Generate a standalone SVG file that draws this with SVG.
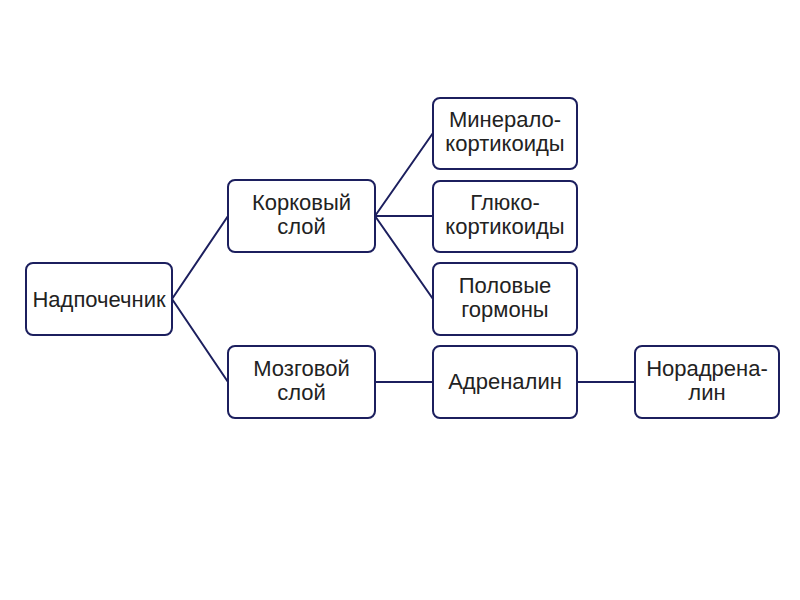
<svg xmlns="http://www.w3.org/2000/svg" width="800" height="600" viewBox="0 0 800 600">
<style>
.box{fill:#fff;stroke:#1c1f5e;stroke-width:2}
.t{font-family:"Liberation Sans",Arial,sans-serif;font-size:22px;fill:#222;text-anchor:middle}
.c{stroke:#1c1f5e;stroke-width:2;fill:none}
</style>
<rect width="800" height="600" fill="#fff"/>
<g id="connectors">
<path class="c" d="M172,299 L228,216 M172,299 L228,382"/>
<path class="c" d="M375,216 L433,133 M375,216 L433,216 M375,216 L433,299"/>
<path class="c" d="M375,382 L433,382 M577,382 L635,382"/>
</g>
<g id="n1"><rect class="box" x="26" y="263" width="146" height="72" rx="7"/><text class="t" x="99" y="307">Надпочечник</text></g>
<g id="n2"><rect class="box" x="228" y="180" width="147" height="72" rx="7"/><text class="t" x="301.5" y="210">Корковый</text><text class="t" x="301.5" y="234">слой</text></g>
<g id="n3"><rect class="box" x="228" y="346" width="147" height="72" rx="7"/><text class="t" x="301.5" y="376">Мозговой</text><text class="t" x="301.5" y="400">слой</text></g>
<g id="n4"><rect class="box" x="433" y="98" width="144" height="71" rx="7"/><text class="t" x="505" y="127">Минерало-</text><text class="t" x="505" y="151">кортикоиды</text></g>
<g id="n5"><rect class="box" x="433" y="181" width="144" height="71" rx="7"/><text class="t" x="505" y="210">Глюко-</text><text class="t" x="505" y="234">кортикоиды</text></g>
<g id="n6"><rect class="box" x="433" y="263" width="144" height="72" rx="7"/><text class="t" x="505" y="293">Половые</text><text class="t" x="505" y="317">гормоны</text></g>
<g id="n7"><rect class="box" x="433" y="346" width="144" height="72" rx="7"/><text class="t" x="505" y="389">Адреналин</text></g>
<g id="n8"><rect class="box" x="635" y="346" width="144" height="72" rx="7"/><text class="t" x="707" y="376">Норадрена-</text><text class="t" x="707" y="400">лин</text></g>
</svg>
